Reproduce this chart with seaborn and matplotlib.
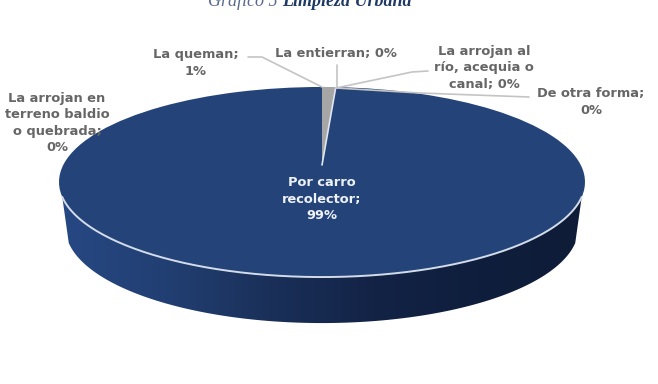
import numpy as np
import matplotlib
matplotlib.use("Agg")
import matplotlib.pyplot as plt
import seaborn as sns
from matplotlib.transforms import Transform
from matplotlib.path import Path
from matplotlib.patches import PathPatch

# Waste disposal shares, clockwise from twelve o'clock
categories = ["La queman", "La entierran", "La arrojan al río, acequia o canal",
              "De otra forma", "Por carro recolector",
              "La arrojan en terreno baldio o quebrada"]
shares = [1, 0, 0, 0, 99, 0]
slice_colors = ["#a6a6a6", "#7f7f7f", "#5b7fb5", "#6d8fc0", "#244479", "#8aa5cc"]

label_text = ["La queman;\n1%", "La entierran; 0%", "La arrojan al\nrío, acequia o\ncanal; 0%",
              "De otra forma;\n0%", "Por carro\nrecolector;\n99%",
              "La arrojan en\nterreno baldio\no quebrada;\n0%"]
label_xy = [(196, 63), (336, 53), (484, 68), (591, 102), (322, 199), (57, 123)]
leader_paths = [[(248, 57), (262, 57), (322, 87)],
                [(337, 65), (337, 88)],
                [(428, 71), (412, 72), (336, 88)],
                [(529, 97), (420, 93), (336, 88)]]

W, H = 658, 384
CX, CY, RX, RY = 322, 165, 263, 92.0
TILT = 0.179
DEPTH = 46


class TiltedDisc(Transform):
    """Projects the unit disc to a receding ellipse in pixel-style axes."""
    input_dims = output_dims = 2

    def __init__(self, dy=0.0, shrink=1.0):
        super().__init__()
        self.dy = dy
        self.shrink = shrink

    def transform_non_affine(self, xy):
        xy = np.asarray(xy, dtype=float)
        w = 1 + TILT * xy[:, 1]
        return np.column_stack((CX + self.shrink * RX * xy[:, 0] / w * np.sqrt(1 - TILT ** 2),
                                CY + self.dy - RY * xy[:, 1] / w))


sns.set_theme(style="white")
plt.rcParams["font.family"] = ["DejaVu Sans"]

fig = plt.figure(figsize=(W / 100, H / 100), dpi=100, facecolor="white")
ax = fig.add_axes([0, 0, 1, 1])

wedges, _ = ax.pie(shares, colors=slice_colors, startangle=90, counterclock=False,
                   radius=1, wedgeprops=dict(linewidth=0))
ax.set_aspect("auto")
ax.set_xlim(0, W)
ax.set_ylim(H, 0)
ax.axis("off")

top = TiltedDisc() + ax.transData
for w in wedges:
    w.set_transform(top)
    w.set_clip_on(False)
    w.set_zorder(3)

# Side wall: the band between the front rim and a slightly narrower lower edge
front = np.linspace(1.106 * np.pi, 1.894 * np.pi, 181)
unit_front = np.column_stack((np.cos(front), np.sin(front)))
rim = TiltedDisc().transform(unit_front)
low = TiltedDisc(DEPTH, 0.975).transform(unit_front)
wall = Path(np.vstack((rim, low[::-1], rim[:1])), closed=True)
shade = sns.blend_palette(["#264883", "#223f73", "#1a3059", "#132346", "#0f1e3c", "#0e1c38"], 256)
img = ax.imshow(np.linspace(0, 1, 256)[None, :],
                cmap=matplotlib.colors.ListedColormap(shade), aspect="auto",
                extent=(CX - RX, CX + RX, 340, 150), zorder=1)
clip = PathPatch(wall, transform=ax.transData, facecolor="none", edgecolor="none")
ax.add_patch(clip)
img.set_clip_path(clip)

# Pale bevel along the front of the top face
ax.plot(rim[:, 0], rim[:, 1], color="#d3dce9", lw=1.4, zorder=4, solid_capstyle="round")

# Pale edge on the grey slice
ax.plot(*TiltedDisc().transform(np.array([[0, 0],
        [np.sin(np.deg2rad(3.6)), np.cos(np.deg2rad(3.6))]])).T,
        color="#dfe6f0", lw=1.2, zorder=4)

for pts in leader_paths:
    xs, ys = zip(*pts)
    ax.plot(xs, ys, color="#c4c4c4", lw=1.2, zorder=5)

for i, (txt, (x, y)) in enumerate(zip(label_text, label_xy)):
    ax.text(x, y, txt, ha="center", va="center", fontsize=9.4, fontweight="bold",
            color="#eef2f7" if shares[i] == 99 else "#666666", linespacing=1.36, zorder=6)

# Title, running up against the top edge of the page
ax.text(278, 6, "Gráfico 5", ha="right", va="baseline", fontsize=13, style="italic",
        family="Liberation Serif", color="#5a6a8f")
ax.text(282, 6, "Limpieza Urbana", ha="left", va="baseline", fontsize=13, style="italic",
        fontweight="bold", family="Liberation Serif", color="#1f3864")

fig.savefig("out.png", dpi=100)
